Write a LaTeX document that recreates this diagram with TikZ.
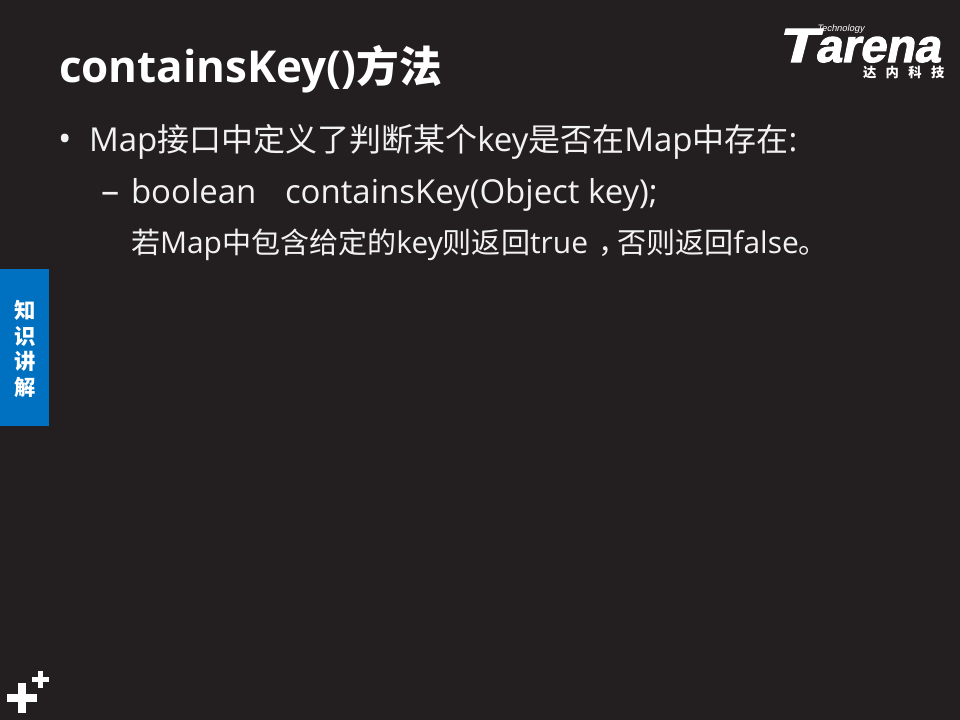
\documentclass[tikz,border=0pt]{standalone}
\usepackage{fontspec}
\usepackage{graphicx}
\setmainfont[Scale=1.03]{Open Sans}
\newfontfamily\cjk{Noto Sans CJK SC}
\newfontfamily\logofont[UprightFont=* Bold,UprightFeatures={FakeSlant=0.2,FakeBold=2.5}]{Liberation Sans}
\newfontfamily\techfont[UprightFeatures={FakeSlant=0.2}]{Liberation Sans}
\newcommand{\zh}[1]{{\cjk #1}}
\tikzset{x=0.75pt,y=-0.75pt,
 txt/.style={anchor=base west,inner sep=0pt,outer sep=0pt,text=textgray},
 logotext/.style={inner sep=0pt,outer sep=0pt,anchor=base west,text=white},
 plusbar/.style={fill=white,draw=none}}
\definecolor{bgdark}{HTML}{231F20}
\definecolor{textgray}{HTML}{F2F2F2}
\definecolor{tabblue}{HTML}{0070C0}
\begin{document}
\begin{tikzpicture}
\useasboundingbox (0,0) rectangle (960,720);
\fill[bgdark] (0,0) rectangle (960,720);
\node[txt,text=white,font=\fontsize{32}{36}\selectfont\bfseries] (title) at (59,83) {containsKey()\zh{\bfseries 方法}};
\node[txt,font=\fontsize{26}{28}\selectfont] (b1) at (58,152) {•};
\node[txt,font=\fontsize{24}{28}\selectfont] (l1) at (89,151.5) {Map\zh{接口中定义了判断某个}key\zh{是否在}Map\zh{中存在}:};
\node[txt,font=\fontsize{26.5}{28}\selectfont] (b2) at (101,204) {–};
\node[txt,font=\fontsize{24}{28}\selectfont] (l2) at (131,203.5) {boolean};
\node[txt,font=\fontsize{24}{28}\selectfont] (l2b) at (285,203.5) {containsKey(Object key);};
\node[txt,font=\fontsize{21.8}{26}\selectfont] (l3) at (131,254) {\zh{若}Map\zh{中包含给定的}key\zh{则返回}true\zh{\hspace{0.36em}，\hspace{-0.36em}否则返回}false\zh{。}};
\fill[tabblue] (0,269) rectangle (49,426);
\node[inner sep=0pt,align=center,text=white,font=\fontsize{16}{19.3}\cjk\bfseries] (tab) at (25,349) {知\\识\\讲\\解};
\fill[plusbar] (7,694) rectangle (37,702);
\fill[plusbar] (18,683) rectangle (26,713);
\fill[plusbar] (32,677) rectangle (49,682);
\fill[plusbar] (38,671) rectangle (43,688);
\node[logotext,font=\fontsize{36}{36}\logofont] (logoT) at (777,62) {\scalebox{1.3}[1]{T}};
\node[logotext,font=\fontsize{35}{35}\logofont] (logo) at (815,62) {arena};
\node[logotext,font=\fontsize{7}{8}\techfont] (tech) at (817,32) {Technology};
\node[logotext,font=\fontsize{10}{12}\cjk\bfseries] (cn) at (863,78) {达\hspace{7pt}内\hspace{7pt}科\hspace{7pt}技};
\end{tikzpicture}
\end{document}
